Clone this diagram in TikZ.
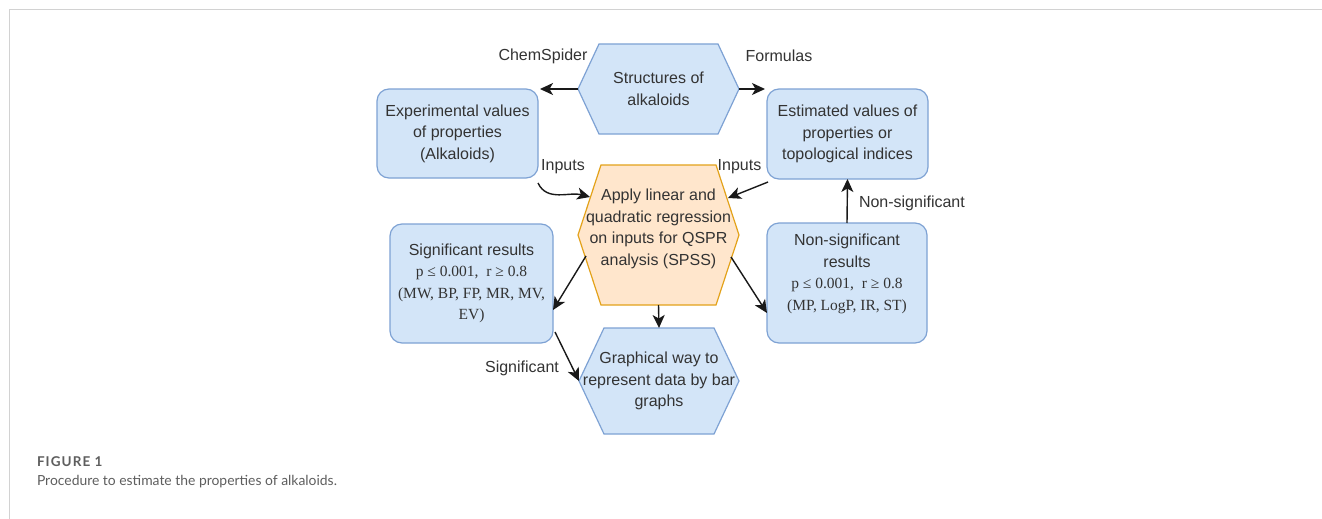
\documentclass[tikz,border=0pt]{standalone}
\usepackage{fontspec}
\setmainfont{Liberation Sans}
\newfontfamily\serifLib{Liberation Serif}
\newfontfamily\capfont{Lato}
\usetikzlibrary{arrows.meta,calc}
\definecolor{bfill}{HTML}{D3E5F8}
\definecolor{bdraw}{HTML}{7EA2D4}
\definecolor{ofill}{HTML}{FFE6CC}
\definecolor{odraw}{HTML}{E3A21A}
\definecolor{txt}{HTML}{333333}
\definecolor{framec}{HTML}{D2D2D2}
\definecolor{capgray}{HTML}{5E5E5E}
\newcommand{\sr}{\serifLib\fontsize{15.5}{21.5}\selectfont}
\newcommand{\hexpath}[4]{%
  \draw[line width=1.2pt, fill=#3, draw=#4] (#1.west) -- ([xshift=#2]#1.north west) -- ([xshift=-#2]#1.north east) -- (#1.east) -- ([xshift=-#2]#1.south east) -- ([xshift=#2]#1.south west) -- cycle;}
\begin{document}
\begin{tikzpicture}[x=1pt,y=-1pt,
  every node/.style={outer sep=0pt, inner sep=0pt, text=txt},
  main/.style={font=\fontsize{16}{21.5}\selectfont, align=center},
  lbl/.style={font=\fontsize{16}{19}\selectfont},
  box/.style={main, draw=bdraw, fill=bfill, rounded corners=12pt, line width=1.2pt},
  shapeholder/.style={draw=none},
  arr/.style={-{Stealth[length=13pt,width=12pt,inset=3.5pt]}, line width=1.4pt, draw=black!90}]
\useasboundingbox (0,0) rectangle (1322,519);
\fill[white] (0,0) rectangle (1322,519);
\draw[framec, line width=1.5pt] (9.5,519) -- (9.5,9.5) -- (1322,9.5);

% hexagons
\node[shapeholder, minimum width=161pt, minimum height=90pt] (top) at (658.5,89) {};
\hexpath{top}{21pt}{bfill}{bdraw}
\node[main] (topT) at (658.5,89) {Structures of\\alkaloids};

\node[shapeholder, minimum width=161pt, minimum height=140pt] (center) at (658.5,235) {};
\hexpath{center}{23pt}{ofill}{odraw}
\node[main] (centerT) at (658.5,229) {Apply linear and\\quadratic regression\\on inputs for QSPR\\analysis (SPSS)};

\node[shapeholder, minimum width=160pt, minimum height=106pt] (bottom) at (659,381) {};
\hexpath{bottom}{25pt}{bfill}{bdraw}
\node[main] (bottomT) at (659,381) {Graphical way to\\represent data by bar\\graphs};

% boxes
\node[box, minimum width=161pt, minimum height=89pt] (exp) at (457.5,133.5) {Experimental values\\of properties\\(Alkaloids)};
\node[box, minimum width=161pt, minimum height=90pt] (est) at (847.5,134) {Estimated values of\\properties or\\topological indices};
\node[box, minimum width=163pt, minimum height=119pt] (sig) at (471.5,283.5) {Significant results\\{\sr p ≤ 0.001,\ \ r ≥ 0.8}\\{\sr (MW, BP, FP, MR, MV,}\\{\sr EV)}};
\node[box, minimum width=160pt, minimum height=120pt] (nonsig) at (847,283) {};
\node[main] (nonsigT) at (847,274) {Non-significant\\results\\{\sr p ≤ 0.001,\ \ r ≥ 0.8}\\{\sr (MP, LogP, IR, ST)}};

% labels
\node[lbl] (chem) at (543,56) {ChemSpider};
\node[lbl] (form) at (779,56) {Formulas};
\node[lbl] (inL) at (563,167) {Inputs};
\node[lbl] (inR) at (739.5,167) {Inputs};
\node[lbl, anchor=west] (nsl) at (859,203) {Non-significant};
\node[lbl] (sl) at (522,368) {Significant};

% connectors
\coordinate (cinL) at (590,197);
\coordinate (cinR) at (728,198);
\coordinate (cL) at (586,256);
\coordinate (cR) at (731,257);
\draw[arr] (top.west) -- ([xshift=2pt]exp.north east);
\draw[arr] (top.east) -- ([xshift=-2pt]est.north west);
\draw[arr] ([yshift=-5pt]exp.south east) to[out=-65,in=165] (cinL);
\draw[arr] ([shift={(1pt,-3pt)}]est.south west) -- (cinR);
\draw[arr] (cL) -- ([yshift=-26.5pt]sig.east);
\draw[arr] (cR) -- ([yshift=-30pt]nonsig.west);
\draw[arr] (center.south) -- (bottom.north);
\draw[arr] ([shift={(2pt,-48.5pt)}]sig.east) -- (bottom.west);
\draw[arr] (nonsig.north) -- (est.south);

% caption
\node[anchor=base west, font=\capfont\bfseries\fontsize{13.5}{13.5}\selectfont\addfontfeatures{LetterSpace=8}, text=capgray] (fig) at (37,466) {FIGURE 1};
\node[anchor=base west, font=\capfont\fontsize{13.9}{14}\selectfont, text=capgray] (cap) at (37,485) {Procedure to estimate the properties of alkaloids.};
\end{tikzpicture}
\end{document}
